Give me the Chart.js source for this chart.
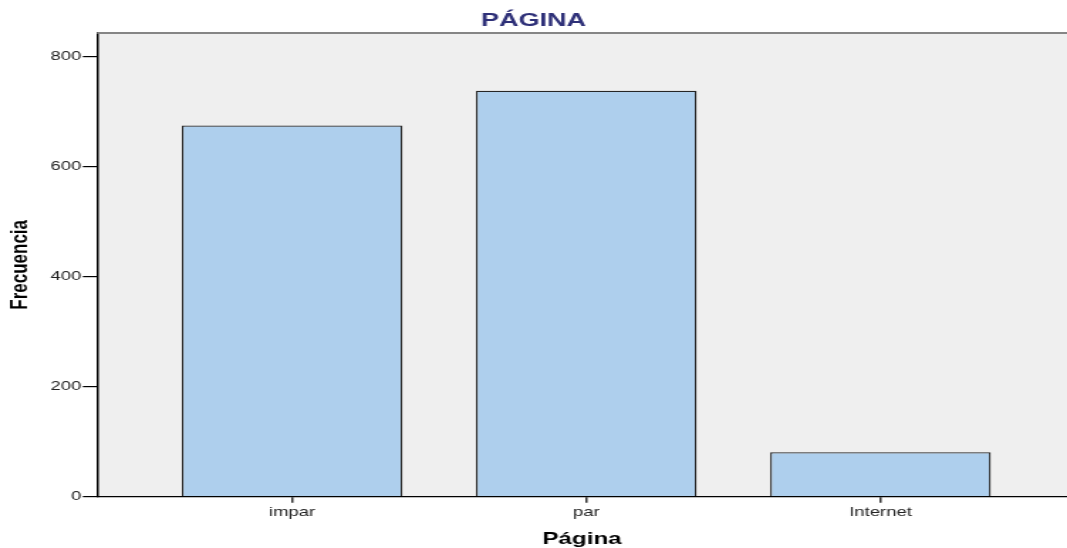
<!DOCTYPE html>
<html>
<head>
<meta charset="utf-8">
<script src="https://cdn.jsdelivr.net/npm/chart.js@4/dist/chart.umd.min.js"></script>
<style>
html,body{margin:0;padding:0;background:#fff;overflow:hidden;}
#wrap{width:751px;height:548px;transform:scaleX(1.4208);transform-origin:0 0;}
#c{display:block;}
</style>
</head>
<body>
<div id="wrap"><canvas id="c" width="751" height="548"></canvas></div>
<script>
const categories = ['impar', 'par', 'Internet'];
const frequencies = [675, 738, 81];
const yTicks = [0, 200, 400, 600, 800];
const chartTitle = 'PÁGINA';
const xTitle = 'Página';
const yTitle = 'Frecuencia';

const FONT = "'Liberation Sans', Arial, sans-serif";

const plotDecor = {
  id: 'plotDecor',
  beforeDraw(chart) {
    const {ctx, chartArea: a} = chart;
    ctx.save();
    ctx.fillStyle = '#efefef';
    ctx.fillRect(a.left, a.top, a.right - a.left, a.bottom - a.top);
    ctx.restore();
  },
  afterDraw(chart) {
    const {ctx, chartArea: a} = chart;
    ctx.save();
    ctx.strokeStyle = '#858585';
    ctx.lineWidth = 2;
    ctx.beginPath();
    ctx.moveTo(a.left, a.top);
    ctx.lineTo(a.right, a.top);
    ctx.stroke();
    ctx.restore();
  }
};

new Chart(document.getElementById('c'), {
  type: 'bar',
  data: {
    datasets: [{
      data: categories.map((c, i) => ({x: i + 1, y: frequencies[i]})),
      backgroundColor: '#aecfed',
      borderColor: '#262626',
      borderWidth: 1.3,
      barPercentage: 0.75,
      categoryPercentage: 1
    }]
  },
  plugins: [plotDecor],
  options: {
    responsive: false,
    animation: false,
    events: [],
    layout: {padding: 0},
    plugins: {
      legend: {display: false},
      tooltip: {enabled: false},
      title: {
        display: true,
        text: chartTitle,
        color: '#2e3078',
        font: {family: FONT, size: 19, weight: 'bold', lineHeight: 1.2},
        padding: {top: 9, bottom: 1.2}
      }
    },
    scales: {
      x: {
        type: 'linear',
        offset: false,
        min: 0.337,
        max: 3.634,
        afterFit(s) { s.height = 51.3; },
        afterBuildTicks(s) { s.ticks = categories.map((c, i) => ({value: i + 1})); },
        grid: {offset: false, drawOnChartArea: false, drawTicks: true, tickLength: 6, color: '#333', lineWidth: 1.5},
        border: {color: '#000', width: 1.2},
        ticks: {
          autoSkip: false, maxRotation: 0, padding: 2,
          color: '#222',
          font: {family: FONT, size: 13},
          callback: (v) => categories[v - 1]
        },
        title: {
          display: true, text: xTitle, color: '#000',
          font: {family: FONT, size: 17, weight: 'bold', lineHeight: 1},
          padding: {top: 0, bottom: 0}
        }
      },
      y: {
        min: 0,
        max: 843,
        afterFit(s) { s.width = 68.3; },
        afterBuildTicks(s) { s.ticks = yTicks.map(v => ({value: v})); },
        grid: {drawOnChartArea: false, drawTicks: true, tickLength: 10, color: '#000', lineWidth: 1.2},
        border: {color: '#000', width: 1.5},
        ticks: {
          padding: 1, color: '#222',
          font: {family: FONT, size: 13}
        },
        title: {
          display: true, text: yTitle, color: '#000',
          font: {family: FONT, size: 17, weight: 'bold', lineHeight: 1},
          padding: {top: 6, bottom: 0}
        }
      }
    }
  }
});
</script>
</body>
</html>
